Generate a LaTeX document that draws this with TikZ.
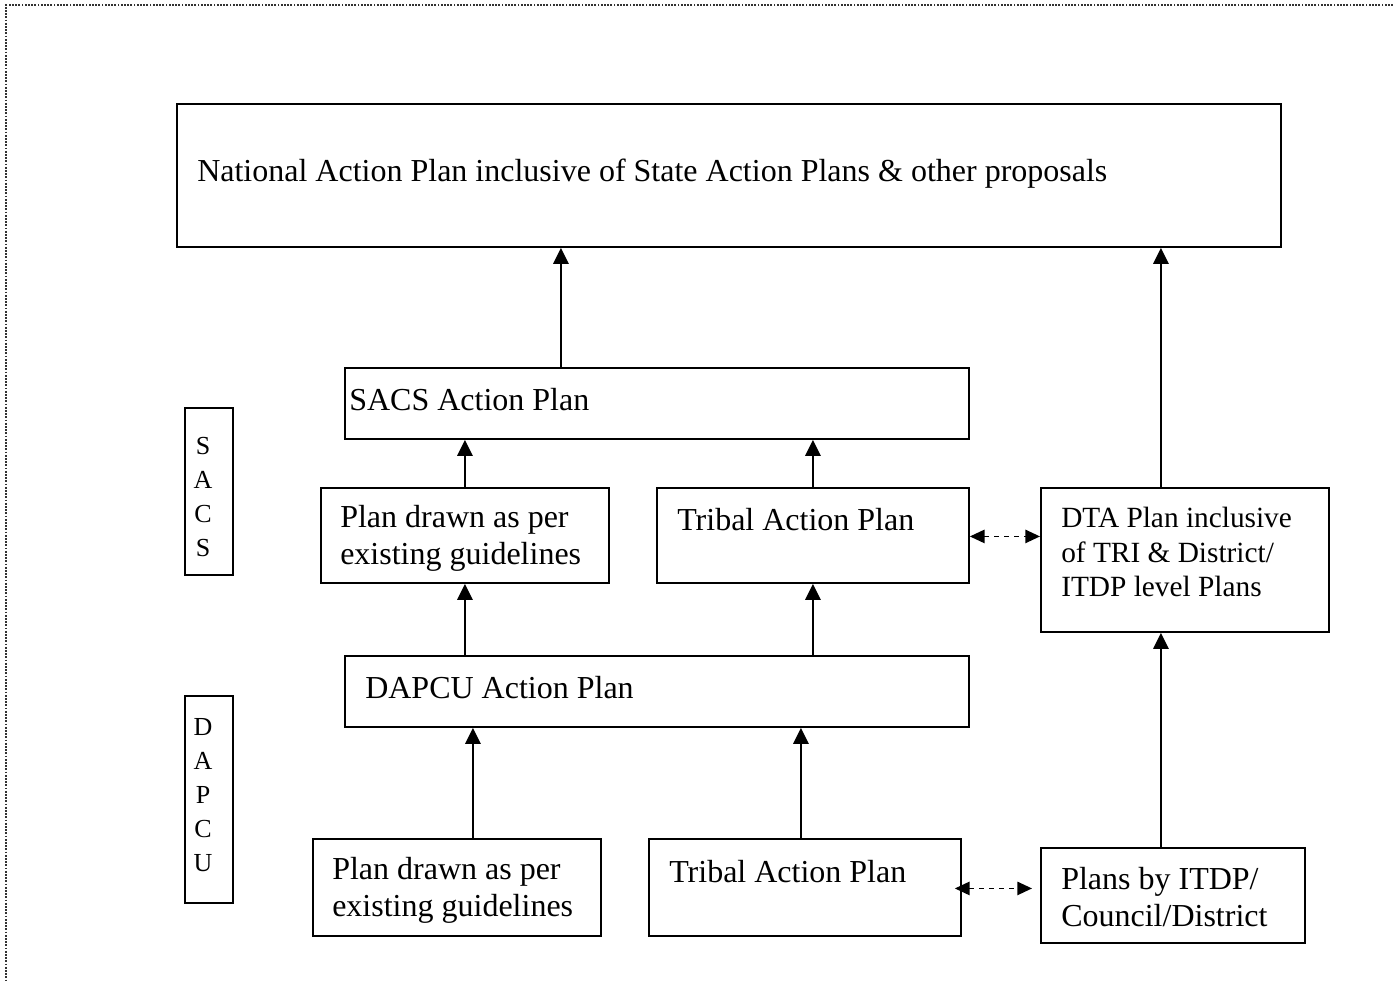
\documentclass[tikz,border=0pt]{standalone}
\usepackage{fontspec}
\setmainfont{Liberation Serif}
\usetikzlibrary{arrows.meta,calc}
\tikzset{
  box/.style={draw=black,line width=1.4pt,inner sep=0pt,anchor=north west},
  txt/.style={anchor=west,inner sep=0pt,font=\fontsize{24}{27.75}\selectfont,align=left},
  stxt/.style={anchor=west,inner sep=0pt,font=\fontsize{22}{25.9}\selectfont,align=left},
  vtxt/.style={inner sep=0pt,font=\fontsize{19.5}{25.5}\selectfont,align=center},
  arr/.style={line width=1.2pt,-{Triangle[length=12pt,width=11.5pt]}},
  darr/.style={line width=1.2pt,dash pattern=on 4pt off 3.5pt,{Triangle[length=11pt,width=10pt]}-{Triangle[length=11pt,width=10pt]}},
  border/.style={draw=black!80,line width=2.2pt,dash pattern=on 1.4pt off 1.0pt}
}
\begin{document}
\begin{tikzpicture}[x=0.75pt,y=-0.75pt]
\useasboundingbox (0,0) rectangle (1393,982);
\draw[border] (1393,5) -- (6,5) -- (6,982);
% boxes
\node[box,minimum width=1104*0.75pt,minimum height=143*0.75pt] (nat) at (176,103) {};
\node[box,minimum width=624*0.75pt,minimum height=71*0.75pt] (sacs) at (344,367) {};
\node[box,minimum width=288*0.75pt,minimum height=95*0.75pt] (pu) at (320,487) {};
\node[box,minimum width=312*0.75pt,minimum height=95*0.75pt] (tu) at (656,487) {};
\node[box,minimum width=288*0.75pt,minimum height=144*0.75pt] (dta) at (1040,487) {};
\node[box,minimum width=624*0.75pt,minimum height=71*0.75pt] (dapcu) at (344,655) {};
\node[box,minimum width=288*0.75pt,minimum height=97*0.75pt] (pl) at (312,838) {};
\node[box,minimum width=312*0.75pt,minimum height=97*0.75pt] (tl) at (648,838) {};
\node[box,minimum width=264*0.75pt,minimum height=95*0.75pt] (itdp) at (1040,847) {};
\node[box,minimum width=48*0.75pt,minimum height=167*0.75pt] (vs) at (184,407) {};
\node[box,minimum width=48*0.75pt,minimum height=207*0.75pt] (vd) at (184,695) {};
% texts
\node[txt] (natt) at (197,174) {National Action Plan inclusive of State Action Plans \& other proposals};
\node[txt] (sacst) at (349,400) {SACS Action Plan};
\node[txt] (put) at (340,538) {Plan drawn as per\\existing guidelines};
\node[txt] (tut) at (677,520) {Tribal Action Plan};
\node[stxt] (dtat) at (1061,552) {DTA Plan inclusive\\of TRI \& District/\\ITDP level Plans};
\node[txt] (dapcut) at (365,688) {DAPCU Action Plan};
\node[txt] (plt) at (332,890) {Plan drawn as per\\existing guidelines};
\node[txt] (tlt) at (669,872) {Tribal Action Plan};
\node[txt] (itdpt) at (1061,897) {Plans by ITDP/\\Council/District};
\node[vtxt] (vst) at (203,497) {S\\A\\C\\S};
\node[vtxt] (vdt) at (203,795) {D\\A\\P\\C\\U};
% arrows
\draw[arr] ([xshift=-96*0.75pt]sacs.north) -- ([xshift=-96*0.75pt]sacs.north |- nat.south);
\draw[arr] ([xshift=-24*0.75pt]dta.north) -- ([xshift=-24*0.75pt]dta.north |- nat.south);
\draw[arr] ([xshift=-192*0.75pt]sacs.south |- pu.north) -- ([xshift=-192*0.75pt]sacs.south);
\draw[arr] (tu.north) -- (tu.north |- sacs.south);
\draw[arr] ([xshift=-192*0.75pt]dapcu.north) -- ([xshift=-192*0.75pt]dapcu.north |- pu.south);
\draw[arr] (tu.south |- dapcu.north) -- (tu.south);
\draw[arr] ([xshift=16*0.75pt]pl.north) -- ([xshift=16*0.75pt]pl.north |- dapcu.south);
\draw[arr] ([xshift=-4*0.75pt]tl.north) -- ([xshift=-4*0.75pt]tl.north |- dapcu.south);
\draw[arr] ([xshift=-24*0.75pt]dta.south |- itdp.north) -- ([xshift=-24*0.75pt]dta.south);
\draw[darr] ([yshift=-1*0.75pt]tu.east) -- ([yshift=-1*0.75pt]dta.west |- tu.east);
\draw[darr] ([xshift=-7*0.75pt,yshift=-1*0.75pt]tl.east) -- ([xshift=-8*0.75pt,yshift=-1*0.75pt]itdp.west |- tl.east);
\end{tikzpicture}
\end{document}
